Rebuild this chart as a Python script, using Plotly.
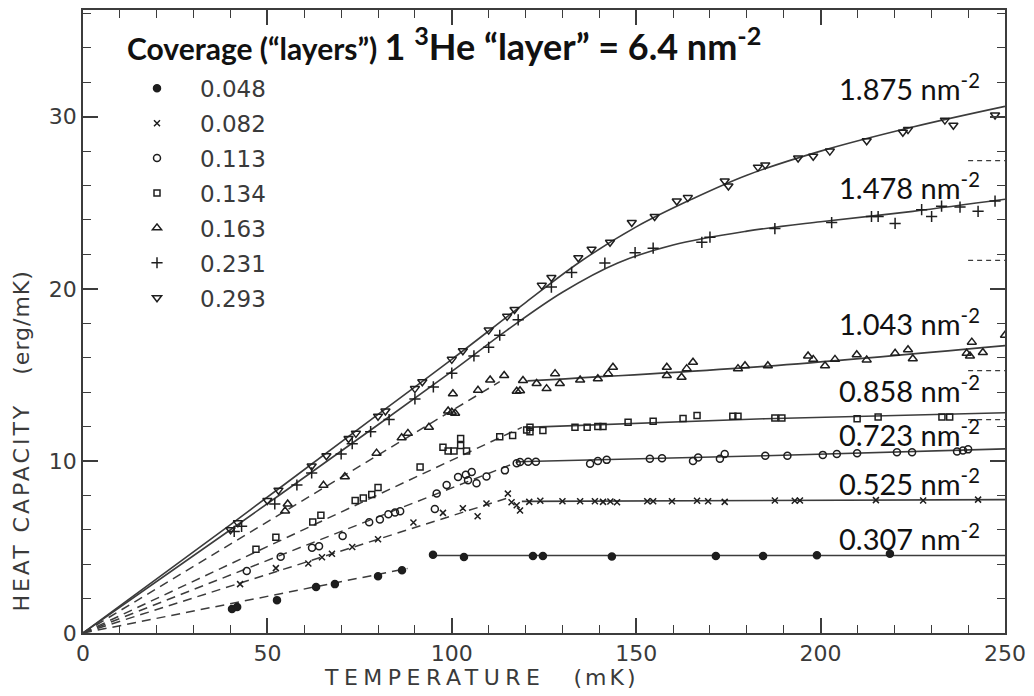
import plotly.graph_objects as go

# ---------------- data ----------------
coverage_labels = ["0.048", "0.082", "0.113", "0.134", "0.163", "0.231", "0.293"]
density_labels = ["0.307", "0.525", "0.723", "0.858", "1.043", "1.478", "1.875"]

T_048 = [40.4, 41.8, 52.6, 63.2, 68.3, 80.0, 86.5, 94.9, 103.3, 122.0, 124.7, 143.4, 171.6, 184.4, 199.0, 218.8]
C_048 = [1.39, 1.51, 1.91, 2.67, 2.84, 3.30, 3.65, 4.55, 4.42, 4.48, 4.48, 4.45, 4.48, 4.48, 4.52, 4.6]

T_082 = [42.6, 52.3, 61.1, 64.8, 67.5, 73.0, 80.0, 89.6, 97.6, 103.0, 107.0, 109.4, 115.2, 116.2, 117.6, 118.5,
         121.0, 124.0, 130.0, 134.8, 138.8, 141.0, 143.0, 144.8, 153.0, 154.6, 159.7, 166.5, 169.5, 174.0,
         187.6, 193.0, 194.4, 215.0, 227.8, 242.7]
C_082 = [2.84, 3.77, 4.04, 4.40, 4.60, 5.00, 5.45, 6.42, 6.98, 7.25, 6.78, 7.52, 8.10, 7.60, 7.42, 7.12,
         7.62, 7.68, 7.65, 7.66, 7.66, 7.62, 7.64, 7.60, 7.66, 7.66, 7.66, 7.68, 7.66, 7.62,
         7.70, 7.68, 7.70, 7.72, 7.70, 7.75]

T_113 = [44.4, 53.6, 62.1, 64.0, 70.4, 77.6, 80.5, 82.8, 84.6, 86.0, 95.4, 95.9, 98.6, 101.7, 103.8,
         104.4, 105.4, 106.7, 109.4, 114.4, 117.6, 118.5, 120.7, 122.8, 137.5, 139.6, 142.0, 153.7, 157.0,
         165.4, 166.8, 172.7, 174.0, 185.0, 191.0, 200.6, 204.4, 209.9, 220.7, 224.8, 237.0, 238.6, 240.0]
C_113 = [3.6, 4.43, 4.95, 5.04, 5.64, 6.43, 6.6, 6.9, 7.0, 7.07, 7.2, 8.1, 8.6, 9.06, 9.2,
         8.87, 9.35, 8.7, 9.1, 9.45, 9.87, 9.93, 9.95, 9.95, 9.84, 10.0, 10.06, 10.13, 10.16,
         10.0, 10.2, 10.13, 10.4, 10.3, 10.3, 10.35, 10.4, 10.45, 10.5, 10.5, 10.55, 10.6, 10.67]

T_134 = [46.9, 52.3, 62.3, 64.5, 73.8, 76.0, 78.3, 80.0, 91.4, 97.6, 99.0, 100.6, 102.4, 102.4, 104.0,
         113.0, 116.5, 120.3, 121.2, 121.2, 124.7, 133.4, 136.7, 139.6, 141.0, 147.8, 154.6, 162.7, 166.5,
         176.2, 177.6, 187.6, 189.5, 209.9, 215.6, 232.9, 235.0]
C_134 = [4.87, 5.57, 6.45, 6.84, 7.7, 7.85, 8.05, 8.46, 9.64, 10.8, 10.57, 10.57, 10.9, 11.3, 10.57,
         11.4, 11.48, 11.8, 11.95, 11.7, 11.77, 11.96, 11.96, 12.0, 12.0, 12.25, 12.3, 12.46, 12.64,
         12.6, 12.6, 12.5, 12.5, 12.45, 12.55, 12.55, 12.55]

T_163 = [54.8, 55.5, 65.2, 71.0, 79.6, 86.4, 88.1, 93.8, 99.0, 100.0, 100.9, 100.3, 107.1, 110.4, 114.2,
         117.6, 118.5, 119.3, 123.0, 125.7, 128.0, 129.3, 134.8, 139.6, 142.4, 143.7, 158.3, 158.3, 162.3,
         163.7, 165.4, 177.6, 179.5, 185.7, 196.6, 198.0, 201.2, 203.9, 209.8, 212.5, 220.2, 223.7, 225.0,
         239.6, 240.5, 241.0, 244.0, 250.0]
C_163 = [7.09, 7.5, 8.58, 9.08, 10.45, 11.34, 11.6, 11.96, 12.9, 12.83, 12.77, 13.9, 14.1, 14.7, 14.96,
         14.05, 14.08, 14.67, 14.5, 14.2, 15.07, 14.5, 14.7, 14.77, 15.07, 15.44, 15.44, 14.96, 14.86,
         15.36, 15.73, 15.36, 15.53, 15.53, 16.1, 15.9, 15.53, 15.9, 16.17, 15.87, 16.25, 16.46, 15.94,
         16.25, 16.1, 16.9, 16.3, 17.3]

T_231 = [41.0, 43.0, 52.0, 58.0, 62.0, 70.0, 73.0, 78.0, 83.0, 90.0, 95.0, 100.0, 106.0, 110.0, 113.0,
         118.0, 127.0, 132.5, 141.5, 149.7, 154.6, 167.8, 170.0, 187.6, 203.0, 213.8, 215.6, 220.2, 227.4,
         230.1, 232.8, 237.8, 242.7, 247.3]
C_231 = [5.9, 6.2, 7.5, 8.6, 9.3, 10.4, 11.0, 11.7, 12.4, 13.6, 14.3, 15.1, 16.1, 16.6, 17.3,
         18.2, 20.1, 20.95, 21.5, 22.1, 22.36, 22.7, 23.0, 23.5, 23.85, 24.2, 24.2, 23.8, 24.6,
         24.2, 24.8, 24.75, 24.5, 25.1]

T_293 = [40.0, 42.0, 50.0, 53.0, 62.0, 66.0, 72.0, 74.0, 80.0, 82.0, 90.0, 92.0, 100.0, 103.0, 110.0,
         115.0, 117.0, 124.4, 127.0, 134.3, 137.9, 142.9, 148.8, 155.0, 161.0, 164.0, 174.0, 175.0, 183.0,
         185.0, 193.9, 198.0, 202.5, 212.5, 222.3, 223.7, 233.7, 236.0, 247.3]
C_293 = [6.0, 6.4, 7.7, 8.3, 9.7, 10.3, 11.3, 11.6, 12.6, 12.9, 14.2, 14.6, 15.9, 16.4, 17.6,
         18.4, 18.8, 20.2, 20.66, 21.8, 22.3, 22.7, 23.85, 24.2, 25.1, 25.3, 26.26, 25.97, 27.07,
         27.2, 27.6, 27.7, 28.0, 28.6, 29.1, 29.25, 29.8, 29.5, 30.1]

# fitted curves (solid) and low-temperature extrapolations (dashed)
fit_293_T = [0, 40, 80, 100, 120, 135, 150, 165, 180, 200, 225, 250]
fit_293_C = [0, 6.3, 12.7, 15.9, 19.2, 21.6, 23.6, 25.2, 26.6, 28.0, 29.4, 30.6]
fit_231_T = [0, 40, 80, 100, 115, 130, 145, 160, 180, 200, 225, 250]
fit_231_C = [0, 6.0, 12.1, 15.2, 17.6, 19.8, 21.5, 22.55, 23.35, 23.9, 24.5, 25.2]

dash_048_T, dash_048_C = [0, 88], [0, 3.75]
dash_082_T, dash_082_C = [0, 116], [0, 7.9]
dash_113_T, dash_113_C = [0, 118], [0, 9.95]
dash_134_T, dash_134_C = [0, 119], [0, 11.95]
dash_163_T, dash_163_C = [0, 113], [0, 14.6]

flat_048_T, flat_048_C = [94.5, 250], [4.5, 4.5]
flat_082_T, flat_082_C = [119, 250], [7.65, 7.75]
flat_113_T, flat_113_C = [117.5, 185, 250], [9.95, 10.3, 10.7]
flat_134_T, flat_134_C = [120, 185, 250], [11.95, 12.45, 12.8]
flat_163_T, flat_163_C = [120.5, 185, 250], [14.65, 15.5, 16.7]

asym_T = [240, 250]
asym_C = [27.45, 21.65, 15.25, 12.4]

x_ticks = [0, 50, 100, 150, 200, 250]
y_ticks = [0, 10, 20, 30]

# ---------------- styling ----------------
LINE = "#3c3c3c"
MK = "#1e1e1e"
TXT = "#3a3a3a"

fig = go.Figure()


def add_line(x, y, dash=None, width=1.6, shape="linear"):
    fig.add_trace(go.Scatter(x=x, y=y, mode="lines", showlegend=False, hoverinfo="skip",
                             line=dict(color=LINE, width=width, dash=dash, shape=shape)))


DASH = "9px,6px"
add_line(fit_293_T, fit_293_C, shape="spline")
add_line(fit_231_T, fit_231_C, shape="spline")
for tx, cy in [(dash_048_T, dash_048_C), (dash_082_T, dash_082_C), (dash_113_T, dash_113_C),
               (dash_134_T, dash_134_C), (dash_163_T, dash_163_C)]:
    add_line(tx, cy, dash=DASH, width=1.5)
for tx, cy in [(flat_048_T, flat_048_C), (flat_082_T, flat_082_C), (flat_113_T, flat_113_C),
               (flat_134_T, flat_134_C), (flat_163_T, flat_163_C)]:
    add_line(tx, cy, shape="spline")
for c in asym_C:
    add_line(asym_T, [c, c], dash="5px,4px", width=1.3)

series = [
    (T_048, C_048, "circle", 7),
    (T_082, C_082, "x-thin", 6),
    (T_113, C_113, "circle-open", 7),
    (T_134, C_134, "square-open", 6),
    (T_163, C_163, "triangle-up-open", 8),
    (T_231, C_231, "cross-thin", 8),
    (T_293, C_293, "triangle-down-open", 8),
]
for (tx, cy, sym, sz), lab in zip(series, coverage_labels):
    fig.add_trace(go.Scatter(
        x=tx, y=cy, mode="markers", name=lab, legendgroup=lab,
        marker=dict(symbol=sym, size=sz, color=MK, line=dict(color=MK, width=1.5)),
    ))

# legend heading
fig.add_annotation(x=(125 - 83) / 922, y=(633 - 42) / 625, xref="paper", yref="paper",
                   xanchor="left", yanchor="middle", showarrow=False,
                   text='<b>Coverage (\u201clayers\u201d) <span style="font-size:36px">1 <sup>3</sup>He '
                        '\u201clayer\u201d = 6.4 nm<sup>-2</sup></span></b>',
                   font=dict(family="Lato", size=30, color="#111111"))

# density labels on the right
label_y = [5.6, 8.8, 11.6, 14.2, 18.1, 26.0, 31.7]
for lab, yy in zip(density_labels, label_y):
    fig.add_annotation(x=243.8, y=yy, xref="x", yref="y", xanchor="right", yanchor="middle",
                       text=f"{lab} nm<sup>-2</sup>", showarrow=False,
                       font=dict(family="Lato", size=29, color="#111111"))

# axis titles
fig.add_annotation(x=(481 - 83) / 922, y=-0.072, xref="paper", yref="paper",
                   text='<span style="letter-spacing:5.5px">TEMPERATURE</span>\u00a0\u00a0\u00a0\u00a0'
                        '<span style="letter-spacing:3px">(mK)</span>',
                   showarrow=False, xanchor="center", yanchor="middle",
                   font=dict(family="DejaVu Sans", size=22, color=TXT))
fig.add_annotation(x=(22 - 83) / 922, y=(633 - 441) / 625, xref="paper", yref="paper",
                   text='<span style="letter-spacing:3px">HEAT\u00a0CAPACITY</span>\u00a0\u00a0\u00a0\u00a0'
                        '<span style="letter-spacing:1px">(erg/mK)</span>',
                   showarrow=False, textangle=-90, xanchor="center", yanchor="middle",
                   font=dict(family="DejaVu Sans", size=22, color=TXT))

axis_common = dict(showline=True, linecolor=LINE, linewidth=1.6, mirror="ticks",
                   ticks="inside", tickcolor=LINE, tickwidth=1.5, ticklen=15,
                   showgrid=False, zeroline=False,
                   tickfont=dict(family="DejaVu Sans", size=22, color=TXT))

fig.update_layout(
    width=1034, height=696,
    margin=dict(l=83, r=29, t=8, b=63),
    paper_bgcolor="white", plot_bgcolor="white",
    xaxis=dict(range=[0, 250], tickmode="array", tickvals=x_ticks,
               minor=dict(dtick=10, tick0=0, ticks="inside", ticklen=8, tickcolor=LINE, tickwidth=1.3),
               **axis_common),
    yaxis=dict(range=[0, 36.2], tickmode="array", tickvals=y_ticks,
               minor=dict(dtick=2, tick0=0, ticks="inside", ticklen=8, tickcolor=LINE, tickwidth=1.3),
               **axis_common),
    legend=dict(x=(114 - 83) / 922, y=(633 - 65) / 625, xanchor="left", yanchor="top",
                bgcolor="rgba(0,0,0,0)", borderwidth=0, tracegroupgap=2, itemwidth=76,
                font=dict(family="DejaVu Sans", size=23, color=TXT)),
    showlegend=True,
)

fig.write_html("out.html")
